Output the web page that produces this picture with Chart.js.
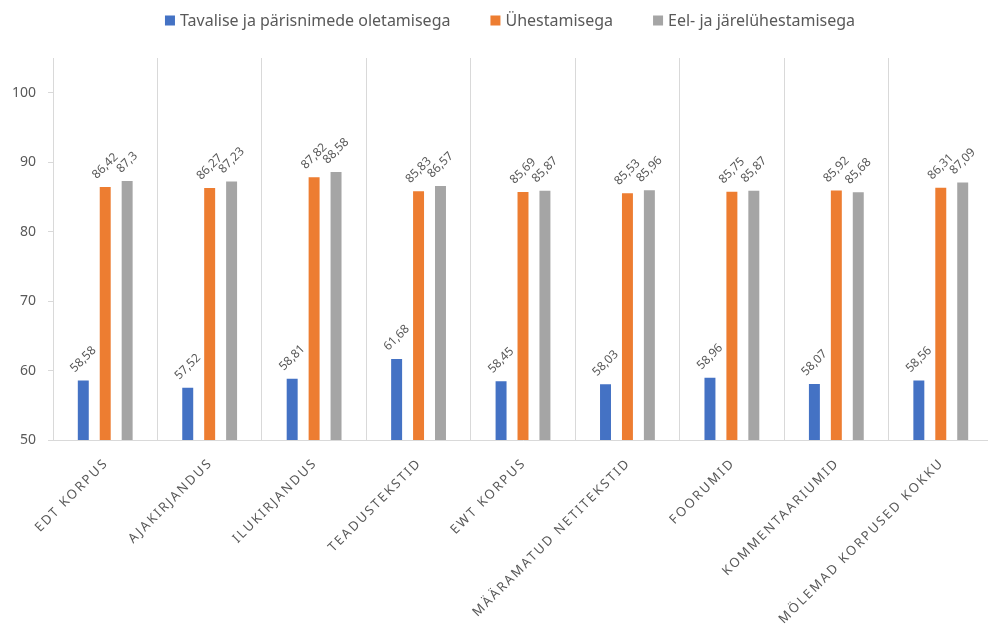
<!DOCTYPE html>
<html>
<head>
<meta charset="utf-8">
<title>Korpused</title>
<script src="https://cdn.jsdelivr.net/npm/chart.js@4/dist/chart.umd.min.js"></script>
<style>
  html, body { margin: 0; padding: 0; background: #fff; overflow: hidden; }
  /* plot runs a few pixels past the right edge of the window */
  #wrap { width: 993px; height: 626px; position: relative; }
</style>
</head>
<body>
<div id="wrap"><canvas id="chart"></canvas></div>
<script>
const categories = [
    'EDT KORPUS', 'AJAKIRJANDUS', 'ILUKIRJANDUS', 'TEADUSTEKSTID', 'EWT KORPUS',
    'MÄÄRAMATUD NETITEKSTID', 'FOORUMID', 'KOMMENTAARIUMID', 'MÖLEMAD KORPUSED KOKKU'
];
const seriesNames = [
    'Tavalise ja pärisnimede oletamisega',
    'Ühestamisega',
    'Eel- ja järelühestamisega'
];
const tavalise = [58.58, 57.52, 58.81, 61.68, 58.45, 58.03, 58.96, 58.07, 58.56];
const yhestamisega = [86.42, 86.27, 87.82, 85.83, 85.69, 85.53, 85.75, 85.92, 86.31];
const eelJarel = [87.3, 87.23, 88.58, 86.57, 85.87, 85.96, 85.87, 85.68, 87.09];
const yTicks = [50, 60, 70, 80, 90, 100];

const colors = ['#4472C4', '#ED7D31', '#A5A5A5'];
const textColor = '#595959';
const lineColor = '#d9d9d9';
const fontFamily = '"Noto Sans", "Open Sans", sans-serif';

// numbers are printed with a decimal comma
const fmt = v => String(v).replace('.', ',');

// rotated value labels sitting just above each bar
const barLabels = {
    id: 'barLabels',
    afterDatasetsDraw(chart) {
        const ctx = chart.ctx;
        const h = 12;
        ctx.save();
        ctx.font = h + 'px ' + fontFamily;
        ctx.fillStyle = textColor;
        ctx.textAlign = 'center';
        ctx.textBaseline = 'middle';
        chart.data.datasets.forEach((ds, i) => {
            chart.getDatasetMeta(i).data.forEach((bar, j) => {
                const txt = fmt(ds.data[j]);
                const w = ctx.measureText(txt).width;
                const half = (w + h * 0.75) * Math.SQRT1_2 / 2;
                ctx.save();
                ctx.translate(bar.x, bar.y - 7 - half);
                ctx.rotate(-Math.PI / 4);
                ctx.fillText(txt, 0, 0);
                ctx.restore();
            });
        });
        ctx.restore();
    }
};

// spaced-out category names under the axis
const categoryLabels = {
    id: 'categoryLabels',
    afterDraw(chart) {
        const ctx = chart.ctx;
        const x = chart.scales.x;
        ctx.save();
        ctx.font = '13px ' + fontFamily;
        ctx.fillStyle = textColor;
        ctx.letterSpacing = '2px';
        ctx.textAlign = 'right';
        ctx.textBaseline = 'middle';
        categories.forEach((label, i) => {
            ctx.save();
            ctx.translate(x.getPixelForTick(i) + 1, chart.chartArea.bottom + 21);
            ctx.rotate(-Math.PI / 4);
            ctx.fillText(label, 0, 0);
            ctx.restore();
        });
        ctx.restore();
    }
};

// legend row at the top
const topLegend = {
    id: 'topLegend',
    afterDraw(chart) {
        const ctx = chart.ctx;
        ctx.save();
        ctx.font = '16px ' + fontFamily;
        ctx.textBaseline = 'middle';
        const box = 10, gap = 5, spacing = 40;
        const widths = seriesNames.map(n => ctx.measureText(n).width);
        const total = widths.reduce((a, w) => a + box + gap + w, 0) + spacing * (seriesNames.length - 1);
        let cx = 510 - total / 2;
        const cy = 20.5;
        seriesNames.forEach((name, i) => {
            ctx.fillStyle = colors[i];
            ctx.fillRect(cx, cy - box / 2, box, box);
            ctx.fillStyle = textColor;
            ctx.fillText(name, cx + box + gap, cy + 1);
            cx += box + gap + widths[i] + spacing;
        });
        ctx.restore();
    }
};

const chart = new Chart(document.getElementById('chart'), {
    type: 'bar',
    data: {
        labels: categories,
        datasets: [
            { label: seriesNames[0], data: tavalise, backgroundColor: colors[0] },
            { label: seriesNames[1], data: yhestamisega, backgroundColor: colors[1] },
            { label: seriesNames[2], data: eelJarel, backgroundColor: colors[2] }
        ]
    },
    options: {
        responsive: true,
        maintainAspectRatio: false,
        animation: false,
        categoryPercentage: 0.63,
        barPercentage: 0.5,
        layout: { padding: { top: 58, bottom: 186, left: 0, right: 0 } },
        plugins: {
            legend: { display: false },
            tooltip: { enabled: false }
        },
        scales: {
            x: {
                offset: true,
                ticks: { display: false },
                grid: {
                    offset: true,
                    drawTicks: false,
                    color: ctx => ctx.index === categories.length ? 'rgba(0,0,0,0)' : lineColor
                },
                border: { color: lineColor },
                afterFit(scale) { scale.height = 0; }
            },
            y: {
                min: 50,
                max: 105,
                afterBuildTicks(scale) {
                    scale.ticks = yTicks.map(v => ({ value: v }));
                },
                ticks: {
                    color: textColor,
                    padding: 12,
                    font: { family: fontFamily, size: 14 }
                },
                grid: { drawOnChartArea: false, tickLength: 5, color: lineColor },
                border: { color: lineColor },
                afterFit(scale) { scale.width = 53; }
            }
        }
    },
    plugins: [barLabels, categoryLabels, topLegend]
});
</script>
</body>
</html>
